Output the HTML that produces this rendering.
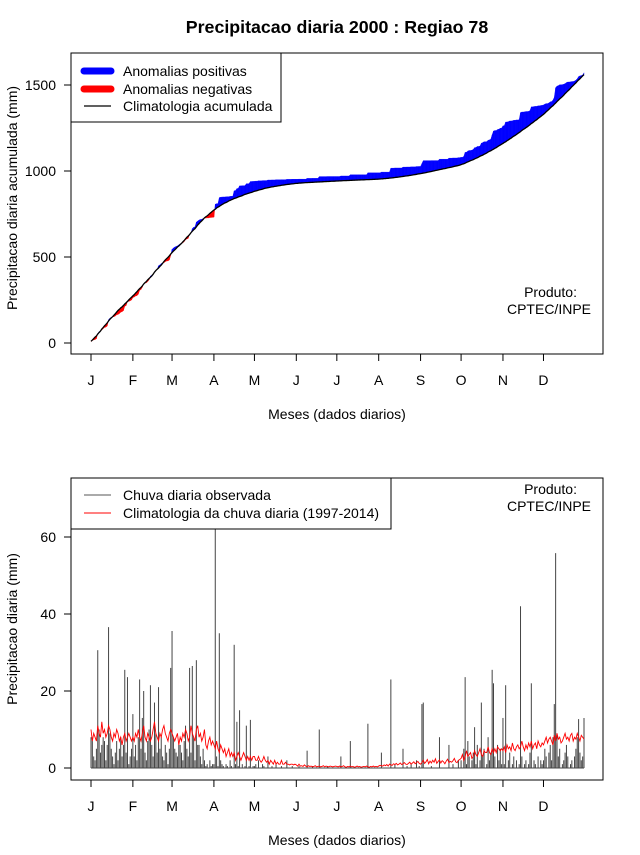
<!DOCTYPE html>
<html><head><meta charset="utf-8">
<style>
body{margin:0;background:#fff;}
svg text{font-family:"Liberation Sans",Arial,sans-serif;font-size:14px;fill:#000;}
</style></head>
<body>
<svg id="chart" width="640" height="850" viewBox="0 0 640 850" xmlns="http://www.w3.org/2000/svg">
<rect x="0" y="0" width="640" height="850" fill="#fff"/>
<text x="337" y="33" text-anchor="middle" style="font-weight:bold;font-size:17.8px">Precipitacao diaria 2000 : Regiao 78</text>
<g id="topPanel"></g>
<g id="botPanel"></g>
</svg>
<script>
const monthLabels=["J","F","M","A","M","J","J","A","S","O","N","D"];
const monthStartDays=[1,32,61,92,122,153,183,214,245,275,306,336];
const topTicks=[0,500,1000,1500];
const botTicks=[0,20,40,60];
const obsJan=[8,7,3,2,5,30.6,10,4,6,8,7,2,6,36.6,9,5,3,1,4,7,2,5,8,3,6,25.5,4,23.6,1,3,5];
const obsFeb=[14,3,6,2,8,23,5,13,20,4,2,7,10,21.5,6,3,17,9,4,21,5,8,3,2,6,4,1,5,26];
const obsMar=[35.6,8,5,4,3,6,6,4,2,7,11,5,3,26,4,26.5,8,2,28,6,6,3,1,5,2,0.5,1,0,2,0.5,1];
const obsApr=[1,75,3,0.5,35,2,1,0.5,0,1,0.5,0,2,0.5,0,32,1,12,0.5,15,0,1,0,0.5,11,0,0.5,12.5,0,0.5];
const obsMay=[0.5,1,0,2,0,0,1,0.5,0,0,3,0,0,0.5,0,0,1,0,0,0,0.5,0,0,0,2,0,0,0,0.5,0,0];
const obsJun=[0,0,0.5,0,0,0,0,0,4.5,0,0,0,0.5,0,0,0,0,10,0,0,0,0,0,0.5,0,0,0,0,0,0];
const obsJul=[0,0,0,3,0,0,0,0,0,0,7,0,0,0,0,0,0,0,0,0,0,0,0,11.5,0,0,0,0,0,0,0];
const obsAug=[0,0,4,0,0,0,0,0,0,23,0,0,1,0,0,0,0,0,5,0,0,0.5,0,0,1,0,0,0,2,0,0.5];
const obsSep=[0,16.6,17,0,0,0,0,0,0.5,0,0,0,0,0,8,0,0,0,0,0,0,6,0,0,1,0,0,0,2,0];
const obsOct=[2,0,5,23.6,1,7,3,0,2,4,10.6,1,6,0,2,17,3,5,0,1,8,2,4,25.5,22,3,0,6,2,5,1];
const obsNov=[13,1,21.5,0,2,4,0,1,3,0,2,0,1,42,3,0,1,2,0,1,4,22,0,2,1,0,3,0,2,1];
const obsDec=[2,5,3,0,4,6,2,8,16.6,55.8,9,3,5,0,1,2,4,6,3,0,1,2,0,3,5,8,12.7,4,2,3,13];
const climJan=[10,7,9,8,7,11,9,8,12,9,10,8,9,11,10,8,7,9,8,10,9,7,8,6,8,9,7,8,9,8,7];
const climFeb=[8,7,9,8,10,8,7,9,11,8,7,9,8,7,8,10,12,9,8,7,9,8,10,11,9,8,7,9,10];
const climMar=[9,8,7,8,9,6,8,7,9,8,10,9,7,8,11,9,8,7,10,11,8,9,7,8,10,6,5,7,8,6,7];
const climApr=[6,5,7,5,4,6,5,4,5,3,4,5,3,4,3,4,2,3,4,3,2,3,4,3,2,3,2,3,2,3];
const climMay=[3,2,2,3,2,1.5,2,3,2,1.5,2,1,2,1.5,1,2,1,1.5,1,1,2,1,1,1.5,1,1,0.8,1,1,0.8,1];
const climJun=[0.8,0.5,1,0.5,0.6,0.4,0.8,0.5,0.3,0.6,0.4,0.5,0.3,0.4,0.6,0.3,0.4,0.5,0.3,0.4,0.6,0.3,0.5,0.4,0.3,0.5,0.4,0.3,0.4,0.5];
const climJul=[0.4,0.3,0.5,0.3,0.4,0.6,0.3,0.2,0.4,0.3,0.5,0.3,0.4,0.2,0.3,0.5,0.3,0.4,0.2,0.3,0.4,0.3,0.5,0.3,0.2,0.4,0.3,0.5,0.3,0.4,0.3];
const climAug=[0.5,0.7,0.6,0.5,0.8,0.6,0.9,0.5,1,0.8,0.7,1.1,0.9,1.2,0.8,1,1.3,0.9,1.1,1.4,1,0.9,1.2,1.5,1,1.3,1.6,1.1,1.4,1.7,1.2];
const climSep=[1,1.4,2,1.2,1.6,2.2,1.1,1.8,1.3,2,1.5,2.4,1.2,1.7,2.1,1.3,1.9,1.6,1.1,1.8,2.3,1.4,1.7,1.5,1.9,2.5,1.6,1.4,2,2.2];
const climOct=[2.5,3.5,2,3,4.5,3,3.5,4,2.5,3,4.5,3.5,3,4,5,3.5,3,4.5,4,4,5.5,4,3.5,5,4,5,4,5.5,5,4.5,5];
const climNov=[4.5,5.5,4,6,5,5.5,4.5,6.5,5,4.5,5.5,6,5,5.5,7,5.5,4.5,6,5,6.5,5.5,7,5,6,6.5,5,7,6,5.5,6.5];
const climDec=[6,7,8,6.5,7.5,8,7,6,8.5,7,9,7.5,8,6.5,7,8,9,7.5,8,7,8.5,9,7,8,7.5,9,8,7,8.5,8,7.5];

const obs=[].concat(obsJan,obsFeb,obsMar,obsApr,obsMay,obsJun,obsJul,obsAug,obsSep,obsOct,obsNov,obsDec);
const clim=[].concat(climJan,climFeb,climMar,climApr,climMay,climJun,climJul,climAug,climSep,climOct,climNov,climDec);
const NS="http://www.w3.org/2000/svg";
function mk(parent,tag,attrs){const e=document.createElementNS(NS,tag);for(const k in attrs)e.setAttribute(k,attrs[k]);parent.appendChild(e);return e;}
function xDay(d){return 91+(d-1)*(493/365);}
function yTop(v){return 343-v*0.172;}
function yBot(v){return 768-v*3.85;}
const topG=document.getElementById('topPanel'), botG=document.getElementById('botPanel');

const cObs=[],cClim=[];let sa=0,sb=0;
for(let i=0;i<obs.length;i++){sa+=obs[i];sb+=clim[i];cObs.push(sa);cClim.push(sb);}
const fills=mk(topG,'g',{});


for(let i=0;i<cObs.length-1;i++){
  const d0=cObs[i]-cClim[i], d1=cObs[i+1]-cClim[i+1];
  const x0=xDay(i+1),x1=xDay(i+2);
  const segs=[];
  if(d0*d1<0){const t=d0/(d0-d1);const xm=x0+t*(x1-x0);const vm=cClim[i]+t*(cClim[i+1]-cClim[i]);
    segs.push([[x0,cObs[i],cClim[i]],[xm,vm,vm],d0]);segs.push([[xm,vm,vm],[x1,cObs[i+1],cClim[i+1]],d1]);}
  else segs.push([[x0,cObs[i],cClim[i]],[x1,cObs[i+1],cClim[i+1]],d0+d1]);
  segs.forEach(s=>{
    const p=mk(fills,'polygon',{points:`${s[0][0]},${yTop(s[0][1])} ${s[1][0]},${yTop(s[1][1])} ${s[1][0]},${yTop(s[1][2])} ${s[0][0]},${yTop(s[0][2])}`,fill:s[2]>=0?'#0000ff':'#ff0000',stroke:s[2]>=0?'#0000ff':'#ff0000','stroke-width':0.4});
    
    
  });
}
const cl=mk(topG,'polyline',{points:cClim.map((v,i)=>xDay(i+1)+','+yTop(v)).join(' '),fill:'none',stroke:'#000','stroke-width':1.3});



function frame(g,y0,y1,ticks,yf,xlabY,ylab,ylabY){
  const r=mk(g,'rect',{x:71,y:y0,width:532,height:y1-y0,fill:'none',stroke:'#000','stroke-width':1});
  
  
  const ya=mk(g,'g',{});
  
  
  mk(ya,'line',{x1:71,x2:71,y1:yf(ticks[0]),y2:yf(ticks[ticks.length-1]),stroke:'#000'});
  ticks.forEach(t=>{mk(ya,'line',{x1:64,x2:71,y1:yf(t),y2:yf(t),stroke:'#000'});
    const tx=mk(ya,'text',{x:56,y:yf(t)+5,'text-anchor':'end'});tx.textContent=t;
    
    });
  const xa=mk(g,'g',{});
  
  
  mk(xa,'line',{x1:xDay(monthStartDays[0]),x2:xDay(monthStartDays[11]),y1:y1,y2:y1,stroke:'#000'});
  monthStartDays.forEach((d,i)=>{mk(xa,'line',{x1:xDay(d),x2:xDay(d),y1:y1,y2:y1+7,stroke:'#000'});
    const tx=mk(xa,'text',{x:xDay(d),y:y1+31,'text-anchor':'middle'});tx.textContent=monthLabels[i];
    
    });
  const xl=mk(g,'text',{x:337,y:xlabY,'text-anchor':'middle'});xl.textContent='Meses (dados diarios)';
  
  
  const yl=mk(g,'text',{x:0,y:0,'text-anchor':'middle',transform:`translate(17,${ylabY}) rotate(-90)`});yl.textContent=ylab;
  
  
}
frame(topG,53,354,topTicks,yTop,419,'Precipitacao diaria acumulada (mm)',198);
frame(botG,478,780,botTicks,yBot,845,'Precipitacao diaria (mm)',629);

function credit(g,y){[['Produto:',y],['CPTEC/INPE',y+17]].forEach((s,i)=>{const t=mk(g,'text',{x:i?591:577,y:s[1],'text-anchor':'end'});t.textContent=s[0];
  
  });}
credit(topG,297);credit(botG,494);

const lg=mk(topG,'g',{});


mk(lg,'rect',{x:71,y:53,width:210,height:69,fill:'#fff',stroke:'#000'});
[['#0000ff',7,'Anomalias positivas',71],['#ff0000',7,'Anomalias negativas',89],['#000',1.3,'Climatologia acumulada',106]].forEach(e=>{
  mk(lg,'line',{x1:84,x2:111,y1:e[3],y2:e[3],stroke:e[0],'stroke-width':e[1],'stroke-linecap':e[1]>2?'round':'butt'});
  const t=mk(lg,'text',{x:123,y:e[3]+5});t.textContent=e[2];
  
  
});

const bars=mk(botG,'g',{});


obs.forEach((v,i)=>{if(v<=0)return;const l=mk(bars,'line',{x1:xDay(i+1),x2:xDay(i+1),y1:yBot(0),y2:Math.max(478,yBot(v)),stroke:'#444','stroke-width':1});
  
  });
mk(bars,'line',{x1:xDay(1),x2:xDay(366),y1:yBot(0),y2:yBot(0),stroke:'#444','stroke-width':1});
const cline=mk(botG,'polyline',{points:clim.map((v,i)=>xDay(i+1)+','+yBot(v)).join(' '),fill:'none',stroke:'#ff0000','stroke-width':0.9});


const lg2=mk(botG,'g',{});


mk(lg2,'rect',{x:71,y:478,width:320,height:51,fill:'#fff',stroke:'#000'});
[['#555','Chuva diaria observada',495],['#ff0000','Climatologia da chuva diaria (1997-2014)',513]].forEach(e=>{
  mk(lg2,'line',{x1:84,x2:111,y1:e[2],y2:e[2],stroke:e[0],'stroke-width':1});
  const t=mk(lg2,'text',{x:123,y:e[2]+5});t.textContent=e[1];
  
  
});
</script>
</body></html>
